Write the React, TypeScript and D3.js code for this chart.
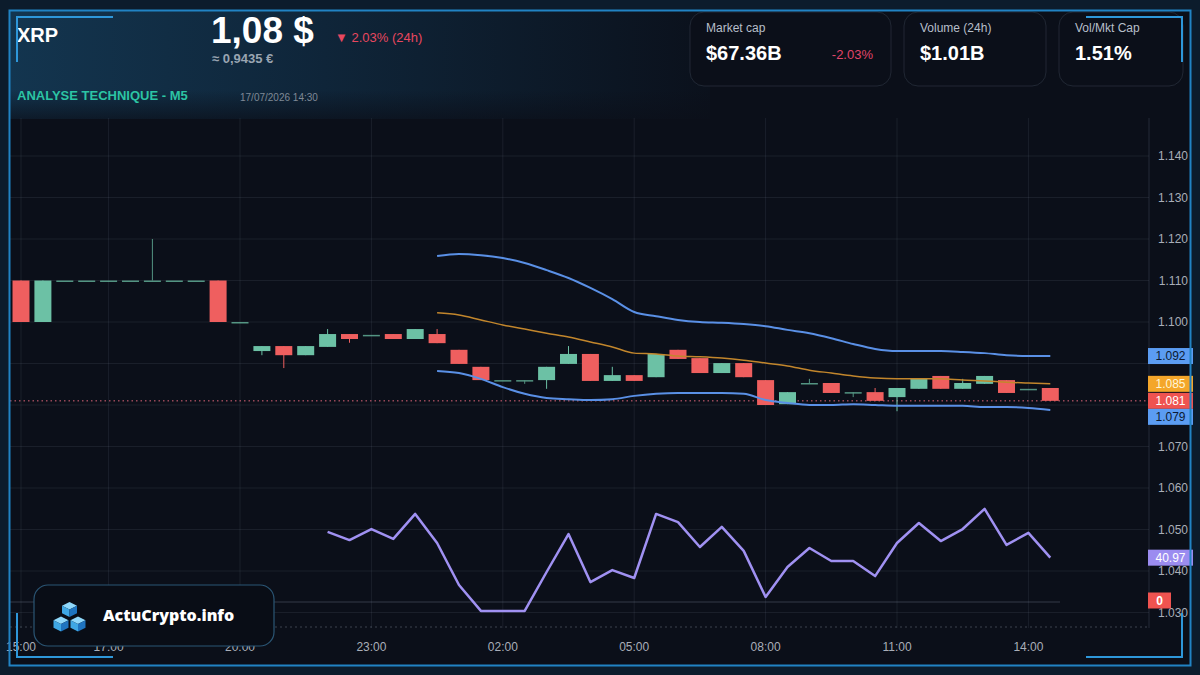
import React from 'react';
import * as d3 from 'd3';

// 30 min candles, 16/07 15:00 -> 17/07 14:30
const candleTimes = [
  '15:00', '15:30', '16:00', '16:30', '17:00', '17:30', '18:00', '18:30', '19:00', '19:30',
  '20:00', '20:30', '21:00', '21:30', '22:00', '22:30', '23:00', '23:30', '00:00', '00:30',
  '01:00', '01:30', '02:00', '02:30', '03:00', '03:30', '04:00', '04:30', '05:00', '05:30',
  '06:00', '06:30', '07:00', '07:30', '08:00', '08:30', '09:00', '09:30', '10:00', '10:30',
  '11:00', '11:30', '12:00', '12:30', '13:00', '13:30', '14:00', '14:30',
];
const opens = [
  1.110, 1.100, 1.110, 1.110, 1.110, 1.110, 1.110, 1.110, 1.110, 1.110,
  1.100, 1.0930, 1.0942, 1.0920, 1.0940, 1.0971, 1.0969, 1.0971, 1.0959, 1.0971,
  1.0933, 1.0892, 1.0860, 1.0860, 1.0860, 1.0899, 1.0923, 1.0858, 1.0872, 1.0867,
  1.0933, 1.0913, 1.0877, 1.0901, 1.0860, 1.0802, 1.0853, 1.0853, 1.0831, 1.0831,
  1.0819, 1.0839, 1.0870, 1.0839, 1.0851, 1.0860, 1.0839, 1.0841,
];
const closes = [
  1.100, 1.110, 1.110, 1.110, 1.110, 1.110, 1.110, 1.110, 1.110, 1.100,
  1.100, 1.0942, 1.0920, 1.0942, 1.0971, 1.0959, 1.0969, 1.0959, 1.0983, 1.0949,
  1.0899, 1.0860, 1.0860, 1.0860, 1.0892, 1.0923, 1.0858, 1.0872, 1.0858, 1.0923,
  1.0911, 1.0877, 1.0901, 1.0867, 1.0800, 1.0831, 1.0853, 1.0829, 1.0831, 1.0810,
  1.0841, 1.0863, 1.0839, 1.0853, 1.0870, 1.0829, 1.0839, 1.0810,
];
const highs = [
  1.110, 1.110, 1.110, 1.110, 1.110, 1.110, 1.120, 1.110, 1.110, 1.110,
  1.100, 1.0942, 1.0942, 1.0942, 1.0983, 1.0971, 1.0969, 1.0971, 1.0983, 1.0983,
  1.0933, 1.0892, 1.0860, 1.0860, 1.0892, 1.0942, 1.0923, 1.0892, 1.0872, 1.0923,
  1.0933, 1.0913, 1.0901, 1.0901, 1.0860, 1.0831, 1.0863, 1.0853, 1.0831, 1.0841,
  1.0841, 1.0863, 1.0870, 1.0863, 1.0870, 1.0860, 1.0839, 1.0841,
];
const lows = [
  1.100, 1.100, 1.110, 1.110, 1.110, 1.110, 1.110, 1.110, 1.110, 1.100,
  1.100, 1.0920, 1.0889, 1.0920, 1.0940, 1.0950, 1.0969, 1.0959, 1.0959, 1.0949,
  1.0899, 1.0860, 1.0860, 1.0851, 1.0839, 1.0899, 1.0858, 1.0858, 1.0858, 1.0867,
  1.0911, 1.0877, 1.0877, 1.0867, 1.0800, 1.0802, 1.0853, 1.0829, 1.0819, 1.0810,
  1.0785, 1.0839, 1.0839, 1.0839, 1.0851, 1.0829, 1.0839, 1.0810,
];

// bollinger bands from 00:30
const bandStart = '00:30';
const upperBand = [
  1.1159, 1.1164, 1.1161, 1.1154, 1.1142, 1.1125, 1.1106, 1.1082, 1.1055, 1.1024,
  1.1014, 1.1005, 1.1000, 1.0998, 1.0995, 1.0990, 1.0981, 1.0973, 1.0961, 1.0947,
  1.0935, 1.0930, 1.0930, 1.0930, 1.0928, 1.0925, 1.0920, 1.0918, 1.0918,
];
const middleBand = [
  1.1022, 1.1017, 1.1005, 1.0993, 1.0983, 1.0973, 1.0964, 1.0952, 1.0940, 1.0925,
  1.0923, 1.0918, 1.0916, 1.0913, 1.0908, 1.0901, 1.0894, 1.0884, 1.0877, 1.0870,
  1.0865, 1.0863, 1.0863, 1.0863, 1.0860, 1.0858, 1.0855, 1.0853, 1.0851,
];
const lowerBand = [
  1.0882, 1.0877, 1.0863, 1.0843, 1.0827, 1.0817, 1.0814, 1.0812, 1.0814, 1.0822,
  1.0827, 1.0829, 1.0829, 1.0829, 1.0827, 1.0812, 1.0805, 1.0800, 1.0800, 1.0802,
  1.0800, 1.0798, 1.0798, 1.0798, 1.0798, 1.0795, 1.0795, 1.0793, 1.0788,
];

// RSI from 22:00
const rsiStart = '22:00';
const rsiValues = [
  51.7, 48.3, 52.9, 48.8, 59.2, 47.1, 29.6, 18.8, 18.8, 18.8,
  35.0, 50.8, 30.8, 35.8, 32.5, 59.2, 55.8, 45.4, 53.8, 43.8,
  24.6, 37.1, 45.0, 39.6, 39.6, 33.3, 47.1, 55.4, 47.9, 52.9,
  61.3, 46.3, 51.3, 40.97,
];
const zeroLevel = 0;

const priceTicks = [1.03, 1.04, 1.05, 1.06, 1.07, 1.08, 1.09, 1.1, 1.11, 1.12, 1.13, 1.14];
const timeTicks = ['15:00', '17:00', '20:00', '23:00', '02:00', '05:00', '08:00', '11:00', '14:00'];

const stats = [
  { label: 'Market cap', value: '$67.36B', change: '-2.03%' },
  { label: 'Volume (24h)', value: '$1.01B', change: '' },
  { label: 'Vol/Mkt Cap', value: '1.51%', change: '' },
];

const UP = '#6cc1a5';
const DOWN = '#ef5f5f';
const BAND = '#5a90e6';
const MID = '#c2862c';
const RSI = '#a091f2';
const GRID = 'rgba(130,140,165,0.13)';
const AXIS_TXT = '#a9aeb8';
const FONT = '"Liberation Sans", Arial, sans-serif';

const toDate = (s: string) => {
  const [h, m] = s.split(':').map(Number);
  return new Date(2026, 6, h >= 15 ? 16 : 17, h, m);
};

const W = 1200;
const H = 675;
const plot = { left: 10, right: 1149, top: 118, bottom: 628 };

const x = d3.scaleTime().domain([toDate('15:00'), toDate('14:30')]).range([21, 1050.3]);
const y = d3.scaleLinear().domain([1.03, 1.14]).range([612.5, 156]);
const yRsi = d3.scaleLinear().domain([20, 60]).range([608, 512]);
const yZero = d3.scaleLinear().domain([-1, 1]).range([627, 577]);

const candles = candleTimes.map((t, i) => ({
  date: toDate(t), o: opens[i], c: closes[i], h: highs[i], l: lows[i],
}));

const bandIdx = candleTimes.indexOf(bandStart);
const bandPts = upperBand.map((u, j) => ({
  date: candles[bandIdx + j].date, u, m: middleBand[j], lo: lowerBand[j],
}));
const rsiIdx = candleTimes.indexOf(rsiStart);
const rsiPts = rsiValues.map((v, j) => ({ date: candles[rsiIdx + j].date, v }));

type P = { date: Date; u: number; m: number; lo: number };
const lineOf = (acc: (d: P) => number) =>
  d3.line<P>().x(d => x(d.date)).y(d => y(acc(d))).curve(d3.curveMonotoneX)(bandPts) || '';
const rsiPath =
  d3.line<{ date: Date; v: number }>().x(d => x(d.date)).y(d => yRsi(d.v))(rsiPts) || '';

const last = candles[candles.length - 1];
// right axis tags, pushed apart so they do not overlap
const tagsRaw = [
  { v: upperBand[upperBand.length - 1], bg: '#5b9cf2', fg: '#0c1a33' },
  { v: middleBand[middleBand.length - 1], bg: '#f4a62a', fg: '#fff6d8' },
  { v: last.c, bg: '#ef5350', fg: '#ffffff' },
  { v: lowerBand[lowerBand.length - 1], bg: '#5b9cf2', fg: '#0c1a33' },
].map(t => ({ ...t, y: y(t.v) })).sort((a, b) => a.y - b.y);
const TAG_H = 16;
const tags: typeof tagsRaw = [];
tagsRaw.forEach((t, i) => {
  const prev = tags[i - 1];
  tags.push({ ...t, y: prev && t.y < prev.y + TAG_H ? prev.y + TAG_H : t.y });
});
// tick labels hidden behind a tag
const covered = (t: number) => tags.some(g => Math.abs(g.y - y(t)) < 12);

const Cube = ({ cx, cy, s }: { cx: number; cy: number; s: number }) => (
  <g>
    <polygon points={`${cx},${cy - s} ${cx + s},${cy - s / 2} ${cx},${cy} ${cx - s},${cy - s / 2}`} fill="#8fd8fb" />
    <polygon points={`${cx - s},${cy - s / 2} ${cx},${cy} ${cx},${cy + s} ${cx - s},${cy + s / 2}`} fill="#3fa7e4" />
    <polygon points={`${cx},${cy} ${cx + s},${cy - s / 2} ${cx + s},${cy + s / 2} ${cx},${cy + s}`} fill="#1f74c0" />
  </g>
);

const App: React.FC = () => {
  const cw = 17;
  const rsiLast = rsiValues[rsiValues.length - 1];
  return (
    <svg width={W} height={H} style={{ position: 'absolute', left: 0, top: 0, display: 'block' }} fontFamily={FONT}>
      <defs>
        <linearGradient id="head" x1="0" x2="1" y1="0" y2="0">
          <stop offset="0%" stopColor="#13354f" />
          <stop offset="45%" stopColor="#0f2539" />
          <stop offset="100%" stopColor="#0b111c" />
        </linearGradient>
        <linearGradient id="headFade" x1="0" x2="0" y1="0" y2="1">
          <stop offset="0%" stopColor="#0b0f19" stopOpacity="0" />
          <stop offset="100%" stopColor="#0b0f19" stopOpacity="0.7" />
        </linearGradient>
        <clipPath id="plotClip">
          <rect x={plot.left} y={plot.top} width={plot.right - plot.left} height={plot.bottom - plot.top} />
        </clipPath>
      </defs>

      <rect x={0} y={0} width={W} height={H} fill="#0c1c2c" />
      <rect x={9} y={10} width={1182} height={656} fill="#0b0f19" />
      <rect x={10} y={11} width={700} height={108} fill="url(#head)" />
      <rect x={10} y={90} width={700} height={29} fill="url(#headFade)" />

      {/* grid */}
      {priceTicks.map(t => (
        <line key={t} x1={plot.left} x2={plot.right} y1={y(t)} y2={y(t)} stroke={GRID} />
      ))}
      {timeTicks.map(t => (
        <line key={t} x1={x(toDate(t))} x2={x(toDate(t))} y1={plot.top} y2={plot.bottom} stroke={GRID} />
      ))}
      <line x1={plot.right} x2={plot.right} y1={plot.top} y2={plot.bottom} stroke="rgba(130,140,165,0.22)" />
      <line x1={plot.left} x2={1060} y1={yZero(zeroLevel)} y2={yZero(zeroLevel)} stroke="rgba(150,160,180,0.3)" />
      <line x1={plot.left} x2={plot.right} y1={plot.bottom - 1} y2={plot.bottom - 1} stroke="rgba(150,160,180,0.35)" strokeDasharray="2,3" />

      <g clipPath="url(#plotClip)">
        {/* last price dotted line */}
        <line x1={plot.left} x2={plot.right} y1={y(last.c)} y2={y(last.c)} stroke="#e0677a" strokeDasharray="1.5,3" />

        {candles.map((d, i) => {
          const col = d.c < d.o ? DOWN : UP;
          const doji = d.o === d.c;
          const cx = x(d.date);
          const top = y(Math.max(d.o, d.c));
          const bh = Math.max(1.5, Math.abs(y(d.o) - y(d.c)));
          return (
            <g key={i} opacity={doji ? 0.75 : 1}>
              {d.h !== d.l && <line x1={cx} x2={cx} y1={y(d.h)} y2={y(d.l)} stroke={col} strokeWidth={1} />}
              <rect x={cx - cw / 2} y={top} width={cw} height={bh} fill={col} />
            </g>
          );
        })}

        <path d={lineOf(d => d.u)} fill="none" stroke={BAND} strokeWidth={2} />
        <path d={lineOf(d => d.m)} fill="none" stroke={MID} strokeWidth={1.5} />
        <path d={lineOf(d => d.lo)} fill="none" stroke={BAND} strokeWidth={2} />
        <path d={rsiPath} fill="none" stroke={RSI} strokeWidth={2.5} strokeLinejoin="round" />
      </g>

      {/* price axis */}
      {priceTicks.filter(t => !covered(t)).map(t => (
        <text key={t} x={1188} y={y(t)} dy="0.35em" textAnchor="end" fontSize={12} fill={AXIS_TXT}>
          {d3.format('.3f')(t)}
        </text>
      ))}
      {timeTicks.map(t => (
        <text key={t} x={x(toDate(t))} y={651} textAnchor="middle" fontSize={12} fill={AXIS_TXT}>
          {t}
        </text>
      ))}

      {tags.map((t, i) => (
        <g key={i}>
          <rect x={1148} y={t.y - TAG_H / 2} width={45} height={TAG_H} fill={t.bg} />
          <text x={1170.5} y={t.y} dy="0.36em" textAnchor="middle" fontSize={12} fill={t.fg}>
            {d3.format('.3f')(t.v)}
          </text>
        </g>
      ))}
      <rect x={1148} y={yRsi(rsiLast) - 8} width={45} height={16} fill="#9b8cf0" />
      <text x={1170.5} y={yRsi(rsiLast)} dy="0.36em" textAnchor="middle" fontSize={12} fill="#ffffff">
        {rsiLast.toFixed(2)}
      </text>
      <rect x={1148} y={yZero(zeroLevel) - 9.5} width={23} height={16} fill="#ef5350" />
      <text x={1159.5} y={yZero(zeroLevel) - 1.5} dy="0.36em" textAnchor="middle" fontSize={12} fontWeight={700} fill="#ffffff">
        {zeroLevel}
      </text>

      {/* header */}
      <text x={17} y={42} fontSize={20} fontWeight={700} fill="#ffffff">XRP</text>
      <text x={211} y={43} fontSize={37} fontWeight={700} fill="#ffffff">1,08 $</text>
      <text x={212} y={63} fontSize={13} fontWeight={700} fill="#9aa5b2">≈ 0,9435 €</text>
      <text x={335} y={42} fontSize={13} fill="#e8475f">▼ 2.03% (24h)</text>
      <text x={17} y={100} fontSize={13} fontWeight={700} fill="#2cc4a4">ANALYSE TECHNIQUE - M5</text>
      <text x={240} y={101} fontSize={10} fill="#7f8996">17/07/2026 14:30</text>

      {stats.map((s, i) => {
        const bx = [690, 904, 1059][i];
        const bw = [201, 142, 124][i];
        return (
          <g key={s.label}>
            <rect x={bx} y={12} width={bw} height={74} rx={14} fill="#0b0f19" stroke="rgba(150,165,190,0.16)" />
            <text x={bx + 16} y={32} fontSize={12} fill="#b7bfca">{s.label}</text>
            <text x={bx + 16} y={60} fontSize={20} fontWeight={700} fill="#ffffff">{s.value}</text>
            {s.change && (
              <text x={bx + 183} y={59} fontSize={13} textAnchor="end" fill="#e0456a">{s.change}</text>
            )}
          </g>
        );
      })}

      {/* logo */}
      <rect x={34} y={585} width={240} height={61} rx={14} fill="#090d16" stroke="#2b5675" strokeWidth={1.2} />
      <Cube cx={69.5} cy={609.5} s={7.5} />
      <Cube cx={61} cy={624} s={7.5} />
      <Cube cx={78} cy={624} s={7.5} />
      <text x={103} y={621} fontSize={16} fontWeight={800} fill="#ffffff" fontFamily='"Open Sans", sans-serif'>
        ActuCrypto.info
      </text>

      {/* frame */}
      <rect x={9.5} y={10.5} width={1181} height={655} fill="none" stroke="#2183c4" strokeWidth={2} />
      <path d="M17,62 V17 H113" fill="none" stroke="#2e97da" strokeWidth={2} />
      <path d="M1086,17 H1182 V62" fill="none" stroke="#2e97da" strokeWidth={2} />
      <path d="M17,613 V657 H113" fill="none" stroke="#2e97da" strokeWidth={2} />
      <path d="M1086,657 H1182 V613" fill="none" stroke="#2e97da" strokeWidth={2} />
    </svg>
  );
};

export default App;
